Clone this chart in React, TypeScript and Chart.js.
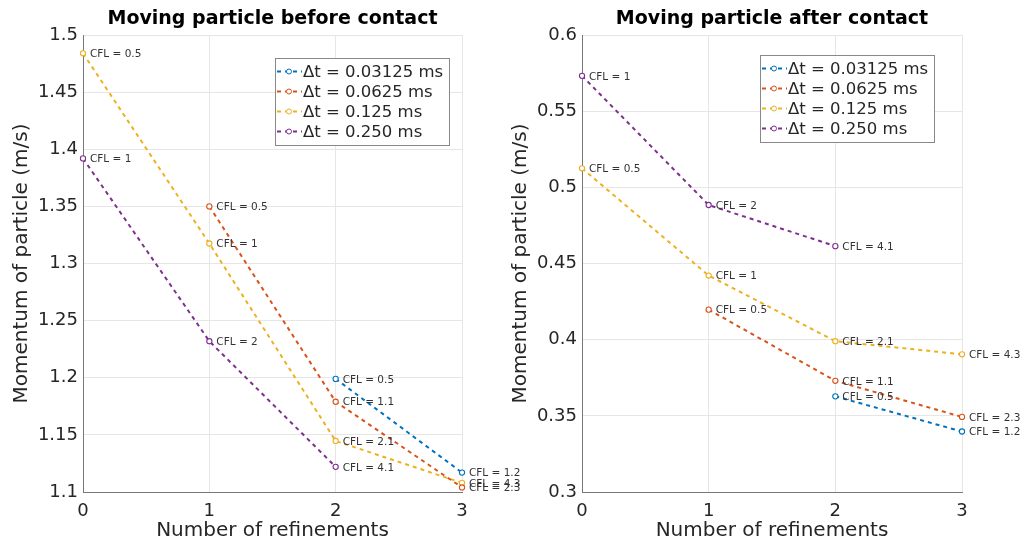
import React, { useEffect, useRef } from "react";
import { Chart, registerables } from "chart.js";

Chart.register(...registerables);

// ---------- data ----------
const refinements = [0, 1, 2, 3];
const seriesNames = ["Δt = 0.03125 ms", "Δt = 0.0625 ms", "Δt = 0.125 ms", "Δt = 0.250 ms"];
const seriesColors = ["#0072BD", "#D95319", "#EDB120", "#7E2F8E"];

// Moving particle before contact
const beforeDt03125 = [null, null, 1.199, 1.117];
const beforeDt0625 = [null, 1.35, 1.179, 1.104];
const beforeDt125 = [1.484, 1.3175, 1.1447, 1.108];
const beforeDt250 = [1.392, 1.232, 1.122, null];

// Moving particle after contact
const afterDt03125 = [null, null, 0.3628, 0.3397];
const afterDt0625 = [null, 0.4197, 0.373, 0.3493];
const afterDt125 = [0.5125, 0.4421, 0.399, 0.3904];
const afterDt250 = [0.5732, 0.4884, 0.4614, null];

// CFL annotations (same in both plots)
const cflDt03125 = [null, null, "0.5", "1.2"];
const cflDt0625 = [null, "0.5", "1.1", "2.3"];
const cflDt125 = ["0.5", "1", "2.1", "4.3"];
const cflDt250 = ["1", "2", "4.1", null];

const beforeYTicks = { min: 1.1, max: 1.5, step: 0.05 };
const afterYTicks = { min: 0.3, max: 0.6, step: 0.05 };

const FONT = "'DejaVu Sans', sans-serif";
const TEXT = "#262626";

type PlotCfg = {
  title: string;
  values: (number | null)[][];
  yTicks: { min: number; max: number; step: number };
  left: number;
  width: number;
  areaRight: number;
  legendBox: { x: number; y: number; w: number; h: number };
};

const cfls = [cflDt03125, cflDt0625, cflDt125, cflDt250];

const plots: PlotCfg[] = [
  {
    title: "Moving particle before contact",
    values: [beforeDt03125, beforeDt0625, beforeDt125, beforeDt250],
    yTicks: beforeYTicks,
    left: 0,
    width: 530,
    areaRight: 462,
    legendBox: { x: 275, y: 58, w: 174, h: 87 },
  },
  {
    title: "Moving particle after contact",
    values: [afterDt03125, afterDt0625, afterDt125, afterDt250],
    yTicks: afterYTicks,
    left: 499,
    width: 525,
    areaRight: 463,
    legendBox: { x: 261, y: 55, w: 174, h: 87 },
  },
];

const annotationPlugin = {
  id: "cflLabels",
  afterDatasetsDraw(chart: any) {
    const ctx = chart.ctx;
    ctx.save();
    ctx.font = `10.5px ${FONT}`;
    ctx.fillStyle = "#333";
    ctx.textAlign = "left";
    ctx.textBaseline = "middle";
    chart.data.datasets.forEach((ds: any, di: number) => {
      const meta = chart.getDatasetMeta(di);
      meta.data.forEach((pt: any, i: number) => {
        const raw = ds.data[i];
        if (raw && raw.cfl) ctx.fillText(`CFL = ${raw.cfl}`, pt.x + 7, pt.y + 1);
      });
    });
    ctx.restore();
  },
};

const decorPlugin = {
  id: "decor",
  afterDraw(chart: any, _args: any, opts: any) {
    const ctx = chart.ctx;
    const area = chart.chartArea;
    ctx.save();
    // title
    ctx.font = `bold 19px ${FONT}`;
    ctx.fillStyle = "#000";
    ctx.textAlign = "center";
    ctx.textBaseline = "middle";
    ctx.fillText(opts.title, (area.left + area.right) / 2, 19);

    // legend
    const b = opts.box;
    ctx.fillStyle = "#fff";
    ctx.fillRect(b.x, b.y, b.w, b.h);
    ctx.strokeStyle = "#888";
    ctx.lineWidth = 1;
    ctx.strokeRect(b.x + 0.5, b.y + 0.5, b.w, b.h);
    ctx.font = `16.5px ${FONT}`;
    ctx.textAlign = "left";
    chart.data.datasets.forEach((ds: any, i: number) => {
      const y = b.y + 13.5 + i * 20;
      ctx.strokeStyle = ds.borderColor;
      ctx.lineWidth = 2;
      ctx.setLineDash([4, 4]);
      ctx.beginPath();
      ctx.moveTo(b.x + 2, y);
      ctx.lineTo(b.x + 27, y);
      ctx.stroke();
      ctx.setLineDash([]);
      ctx.lineWidth = 1;
      ctx.fillStyle = "#fff";
      ctx.beginPath();
      ctx.arc(b.x + 14, y, 2.5, 0, Math.PI * 2);
      ctx.fill();
      ctx.stroke();
      ctx.fillStyle = TEXT;
      ctx.fillText(ds.label, b.x + 28, y + 1);
    });
    ctx.restore();
  },
};

function Plot({ cfg }: { cfg: PlotCfg }) {
  const ref = useRef<HTMLCanvasElement | null>(null);
  useEffect(() => {
    if (!ref.current) return;
    const datasets = cfg.values.map((vals, si) => ({
      label: seriesNames[si],
      data: refinements
        .map((x, i) => ({ x, y: vals[i], cfl: cfls[si][i] }))
        .filter((p) => p.y !== null),
      borderColor: seriesColors[si],
      backgroundColor: "#fff",
      borderWidth: 2,
      borderDash: [4, 4],
      pointRadius: 2.6,
      pointBorderWidth: 1.1,
      pointBackgroundColor: "#fff",
      pointBorderColor: seriesColors[si],
      tension: 0,
      clip: false,
    }));
    const chart = new Chart(ref.current, {
      type: "line",
      data: { datasets },
      plugins: [annotationPlugin, decorPlugin],
      options: {
        responsive: false,
        animation: false,
        devicePixelRatio: 1,
        layout: { padding: { top: 35, left: 0, bottom: 0, right: cfg.width - cfg.areaRight } },
        plugins: {
          legend: { display: false },
          title: { display: false },
          tooltip: { enabled: false },
          decor: { title: cfg.title, box: cfg.legendBox },
        } as any,
        scales: {
          x: {
            type: "linear",
            min: 0,
            max: 3,
            ticks: { stepSize: 1, color: TEXT, font: { family: FONT, size: 18 }, padding: 9 },
            grid: { color: "#e6e6e6", drawTicks: false },
            border: { color: "#777", width: 1 },
            title: {
              display: true,
              text: "Number of refinements",
              color: TEXT,
              font: { family: FONT, size: 20 },
              padding: { top: 0, bottom: 5 },
            },
            afterFit: (s: any) => {
              s.height = 56;
            },
          },
          y: {
            type: "linear",
            min: cfg.yTicks.min,
            max: cfg.yTicks.max,
            ticks: {
              stepSize: cfg.yTicks.step,
              color: TEXT,
              font: { family: FONT, size: 18 },
              padding: 5,
              callback: (v: any) => String(Number(Number(v).toFixed(2))),
            },
            grid: { color: "#e6e6e6", drawTicks: false },
            border: { color: "#777", width: 1 },
            title: {
              display: true,
              text: "Momentum of particle (m/s)",
              color: TEXT,
              font: { family: FONT, size: 20 },
              padding: { top: 10, bottom: 0 },
            },
            afterFit: (s: any) => {
              s.width = 83;
            },
          },
        },
      } as any,
    });
    return () => chart.destroy();
  }, [cfg]);
  return (
    <canvas
      ref={ref}
      width={cfg.width}
      height={548}
      style={{ position: "absolute", left: cfg.left, top: 0, width: cfg.width, height: 548 }}
    />
  );
}

export default function App() {
  return (
    <div style={{ position: "fixed", left: 0, top: 0, width: 1024, height: 548, background: "#fff", overflow: "hidden" }}>
      {plots.map((p, i) => (
        <Plot key={i} cfg={p} />
      ))}
    </div>
  );
}
